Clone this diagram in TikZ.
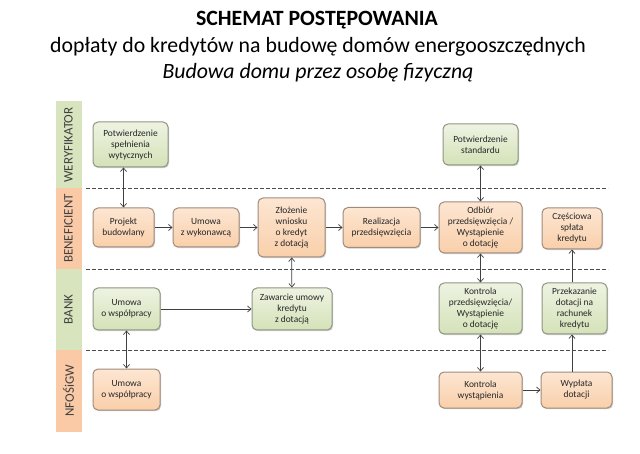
\documentclass[tikz,border=0pt]{standalone}
\usepackage{fontspec}
\setmainfont{Carlito}
\usetikzlibrary{arrows.meta,shadows}
\definecolor{lanegreen}{HTML}{D7E4BD}
\definecolor{laneorange}{HTML}{FAC9A6}
\definecolor{boxgreenA}{HTML}{EEF3E2}
\definecolor{boxgreenB}{HTML}{D4E2B8}
\definecolor{boxorangeA}{HTML}{FDE6D2}
\definecolor{boxorangeB}{HTML}{F9CFAA}
\definecolor{txt}{HTML}{262626}
\definecolor{gedge}{HTML}{8E9682}
\definecolor{oedge}{HTML}{A08C7C}
\tikzset{
  box/.style={rectangle, rounded corners=5pt, line width=1pt,
    align=center, font=\fontsize{9.4}{11}\selectfont, text=txt, inner sep=1pt,
    drop shadow={shadow xshift=1pt, shadow yshift=-1.2pt, opacity=0.4}},
  gbox/.style={box, draw=gedge, top color=boxgreenA, bottom color=boxgreenB},
  obox/.style={box, draw=oedge, top color=boxorangeA, bottom color=boxorangeB},
  conn/.style={draw=black!75, line width=0.7pt, -{Straight Barb[length=3.5pt,width=6pt]}},
  biconn/.style={draw=black!75, line width=0.7pt, {Straight Barb[length=3.5pt,width=6pt]}-{Straight Barb[length=3.5pt,width=6pt]}},
  sep/.style={draw=black!70, line width=0.7pt, dash pattern=on 3.5pt off 2.5pt},
  lanelbl/.style={rotate=90, font=\fontsize{13}{15}\selectfont, text=black!75}
}
\begin{document}
\begin{tikzpicture}[x=1pt,y=-1pt]
\useasboundingbox[fill=white] (0,0) rectangle (640,454);
% titles
\node[font=\bfseries\fontsize{21.8}{25}\selectfont, text=black] (t1) at (317,20) {SCHEMAT POSTĘPOWANIA};
\node[font=\fontsize{21.8}{25}\selectfont, text=black] (t2) at (318,47) {dopłaty do kredytów na budowę domów energooszczędnych};
\node[font=\itshape\fontsize{21.8}{25}\selectfont, text=black] (t3) at (318,73) {Budowa domu przez osobę fizyczną};
% lanes
\fill[lanegreen] (56,101) rectangle (82,188);
\fill[laneorange] (56,188) rectangle (82,269);
\fill[lanegreen] (56,269) rectangle (82,350);
\fill[laneorange] (56,350) rectangle (82,432);
\node[lanelbl] (l1) at (68.5,145) {WERYFIKATOR};
\node[lanelbl] (l2) at (68.5,228.5) {BENEFICIENT};
\node[lanelbl] (l3) at (68.5,309.5) {BANK};
\node[lanelbl] (l4) at (68.5,391) {NFOŚiGW};
\coordinate (s1a) at (86,188); \coordinate (s1b) at (608,188);
\coordinate (s2a) at (86,269); \coordinate (s2b) at (608,269);
\coordinate (s3a) at (86,350); \coordinate (s3b) at (608,350);
\draw[sep] (s1a) -- (s1b);
\draw[sep] (s2a) -- (s2b);
\draw[sep] (s3a) -- (s3b);
% boxes
\node[gbox, minimum width=75pt, minimum height=45pt] (pw) at (130.5,144.5) {Potwierdzenie\\spełnienia\\wytycznych};
\node[gbox, minimum width=75pt, minimum height=41pt] (ps) at (480.5,144.5) {Potwierdzenie\\standardu};
\node[obox, minimum width=61pt, minimum height=39pt] (pb) at (123.5,227.5) {Projekt\\budowlany};
\node[obox, minimum width=66pt, minimum height=39pt] (uw) at (206,227.5) {Umowa\\z wykonawcą};
\node[obox, minimum width=67pt, minimum height=59pt] (zw) at (291.5,227.5) {Złożenie\\wniosku\\o kredyt\\z dotacją};
\node[obox, minimum width=77pt, minimum height=40pt] (rp) at (381.5,227.5) {Realizacja\\przedsięwzięcia};
\node[obox, minimum width=83pt, minimum height=51pt] (od) at (480.5,227.5) {Odbiór\\przedsięwzięcia /\\Wystąpienie\\o dotację};
\node[obox, minimum width=60pt, minimum height=41pt] (cs) at (572,228.5) {Częściowa\\spłata\\kredytu};
\node[gbox, minimum width=67pt, minimum height=42pt] (bu) at (126.5,309) {Umowa\\o współpracy};
\node[gbox, minimum width=80pt, minimum height=42pt] (za) at (292,309) {Zawarcie umowy\\kredytu\\z dotacją};
\node[gbox, minimum width=83pt, minimum height=51pt] (kp) at (480.5,308.5) {Kontrola\\przedsięwzięcia/\\Wystąpienie\\o dotację};
\node[gbox, minimum width=65pt, minimum height=51pt] (pr) at (574.5,308.5) {Przekazanie\\dotacji na\\rachunek\\kredytu};
\node[obox, minimum width=67pt, minimum height=41pt] (nu) at (126.5,389.5) {Umowa\\o współpracy};
\node[obox, minimum width=83pt, minimum height=36pt] (kw) at (480.5,390) {Kontrola\\wystąpienia};
\node[obox, minimum width=71pt, minimum height=36pt] (wd) at (576.5,390) {Wypłata\\dotacji};
% connectors
\draw[biconn] (pb.north) -- (pb.north |- pw.south);
\draw[conn] (pb) -- (uw);
\draw[conn] (uw) -- (zw);
\draw[conn] (zw) -- (rp);
\draw[conn] (rp) -- (od);
\draw[biconn] (ps) -- (od);
\draw[biconn] (zw) -- (za);
\draw[biconn] (od) -- (kp);
\draw[biconn] (kp) -- (kw);
\draw[conn] (kw) -- (wd);
\draw[conn] (wd.north -| cs.south) -- (pr.south -| cs.south);
\draw[conn] (pr.north -| cs.south) -- (cs.south);
\draw[conn] (bu.east |- za.west) -- (za.west);
\draw[biconn] (bu.south -| nu.north) -- (nu.north);
\end{tikzpicture}
\end{document}
